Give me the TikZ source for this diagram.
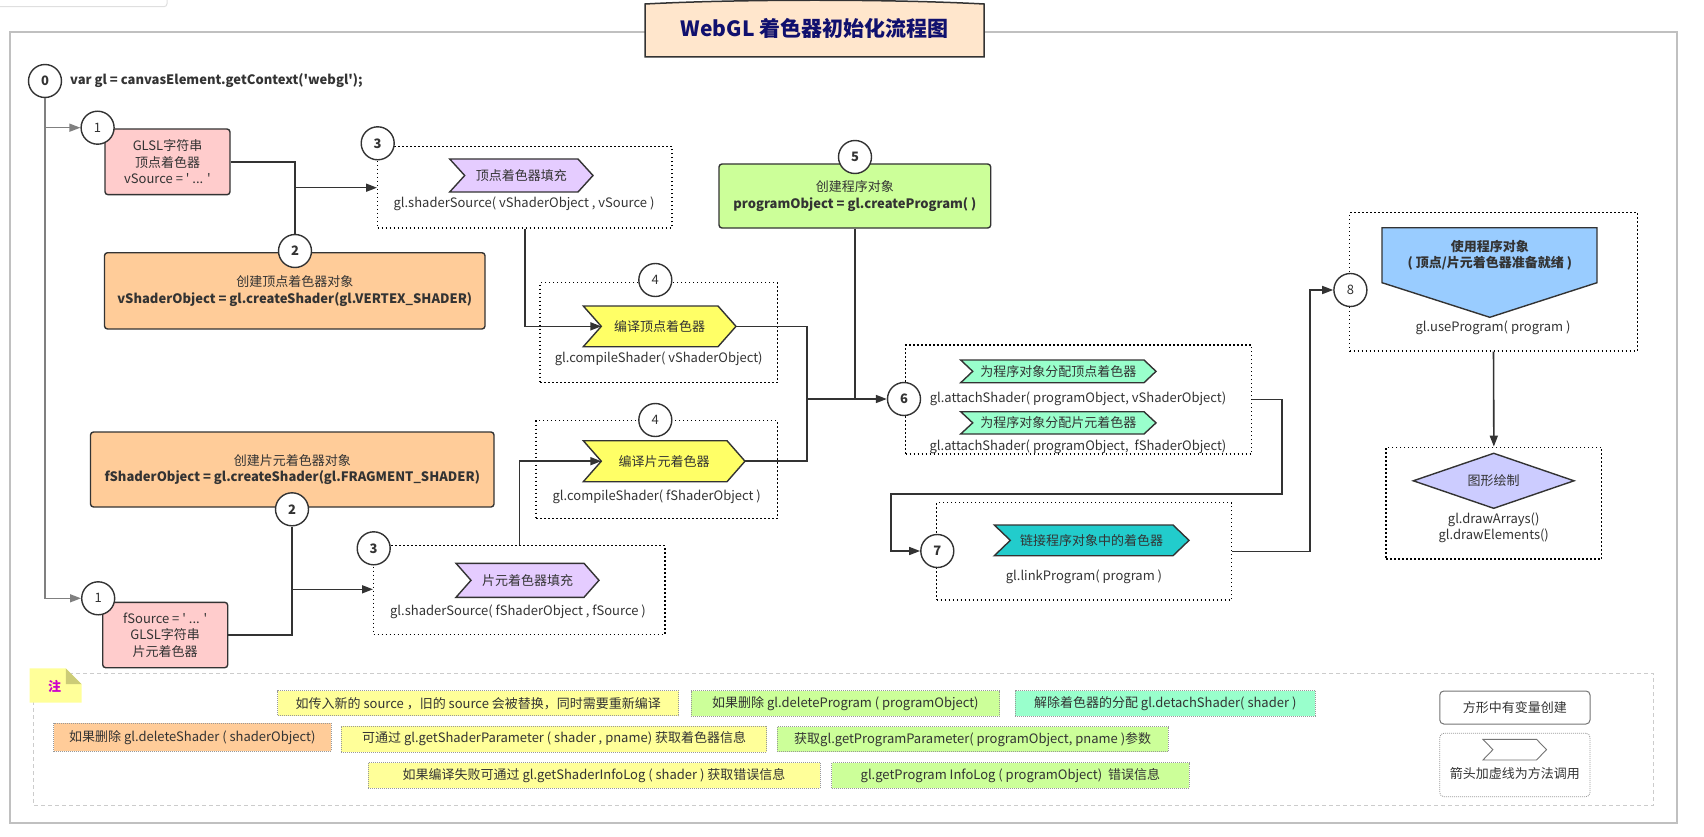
\documentclass[tikz,border=0pt]{standalone}
\usepackage{fontspec}
\setmainfont{Noto Sans CJK SC}
\usetikzlibrary{arrows.meta}
\definecolor{dk}{HTML}{333333}
\definecolor{gyl}{HTML}{808080}
\definecolor{framec}{HTML}{C0C0C0}
\definecolor{titlefill}{HTML}{FFE6CC}
\definecolor{titletext}{HTML}{10106E}
\definecolor{pinkc}{HTML}{FFCCCC}
\definecolor{orangec}{HTML}{FFCC99}
\definecolor{greenc}{HTML}{CCFF99}
\definecolor{bluec}{HTML}{99CCFF}
\definecolor{lavc}{HTML}{E5CCFF}
\definecolor{yelc}{HTML}{FFFF66}
\definecolor{mintc}{HTML}{99FFCC}
\definecolor{tealc}{HTML}{22CCCC}
\definecolor{diac}{HTML}{CCCCFF}
\definecolor{notey}{HTML}{FFFF99}
\definecolor{notefold}{HTML}{CCCC77}
\definecolor{notemag}{HTML}{CC00CC}
\newcommand\mychev[8]{%
  \draw[chevline, fill=#7] (#2,#3) -- ({#4-#6},#3) -- (#4,{(#3+#5)/2}) -- ({#4-#6},#5) -- (#2,#5) -- ({#2+#6},{(#3+#5)/2}) -- cycle;
  \coordinate (#1-in) at ({#2+#6},{(#3+#5)/2});
  \coordinate (#1-out) at (#4,{(#3+#5)/2});
  \node[txt] (#1) at ({(#2+#4)/2},{(#3+#5)/2}) {#8};
}
\begin{document}
\begin{tikzpicture}[x=1pt,y=-1pt,
  conn/.style={draw=dk, line width=1.6pt},
  gconn/.style={draw=gyl, line width=1.4pt},
  arr/.style={-{Triangle[length=11pt,width=8pt]}},
  num/.style={circle, draw=dk, line width=1.4pt, fill=white, minimum size=33pt, inner sep=0pt, text=dk, font=\fontsize{13}{13}\selectfont\bfseries},
  numl/.style={num, font=\fontsize{13}{13}\selectfont},
  dbox/.style={draw=black, line width=1.4pt, dash pattern=on 1.5pt off 2.5pt, inner sep=0pt},
  sbox/.style={draw=dk, line width=1.4pt, rounded corners=3pt, inner sep=0pt, align=center, text=dk, font=\fontsize{13}{16.5}\selectfont},
  txt/.style={inner sep=0pt, align=center, text=dk, font=\fontsize{13}{16.5}\selectfont},
  btxt/.style={txt, font=\fontsize{13}{16.5}\selectfont\bfseries},
  note/.style={draw=gray!80, line width=0.8pt, dash pattern=on 1pt off 1pt, inner sep=0pt, text=dk, font=\fontsize{13}{15}\selectfont},
  chevline/.style={draw=dk, line width=1.4pt},
]
\useasboundingbox (0,0) rectangle (1704,837);
% faint artifact top-left
\draw[gray!25, line width=1pt, rounded corners=3pt] (0,6.7) -- (167,6.7) -- (167,0);
% outer frame
\draw[framec, line width=2pt] (9.6,31.7) rectangle (1677,822.7);
% title
\draw[dk, line width=1.5pt, fill=titlefill] (645,57) -- (645,4) .. controls (740,-1) and (890,-1) .. (984,4) -- (984,57) -- cycle;
\node[inner sep=0pt, text=titletext, font=\fontsize{21}{21}\selectfont\bfseries] (title) at (814.5,28.5) {WebGL 着色器初始化流程图};

% dotted boxes
\node[dbox, minimum width=294.3pt, minimum height=81.3pt] (b3a) at (524.85,187.35) {};
\node[dbox, minimum width=237.3pt, minimum height=99.6pt] (b4a) at (658.65,332.5) {};
\node[dbox, minimum width=241.3pt, minimum height=97.6pt] (b4b) at (656.65,469.5) {};
\node[dbox, minimum width=291.3pt, minimum height=88.6pt] (b3b) at (519.35,590) {};
\node[dbox, minimum width=346pt, minimum height=109pt] (b6) at (1078.7,399.5) {};
\node[dbox, minimum width=295pt, minimum height=97.3pt] (b7) at (1084.2,551.35) {};
\node[dbox, minimum width=287.8pt, minimum height=138.3pt] (b8) at (1493.5,281.85) {};
\node[dbox, minimum width=215.7pt, minimum height=111.7pt] (bd) at (1493.85,503.15) {};

% solid boxes
\node[sbox, fill=pinkc, minimum width=125pt, minimum height=65.7pt] (pa) at (167.5,161.85) {GLSL字符串\\顶点着色器\\vSource = \textquotesingle\ ... \textquotesingle};
\node[sbox, fill=pinkc, minimum width=125pt, minimum height=65.4pt] (pb) at (165.2,635) {fSource = \textquotesingle\ ... \textquotesingle\\GLSL字符串\\片元着色器};
\node[sbox, fill=orangec, minimum width=380.5pt, minimum height=76.3pt] (ob1) at (294.75,290.85) {创建顶点着色器对象\\\textbf{vShaderObject = gl.createShader(gl.VERTEX\_SHADER)}};
\node[sbox, fill=orangec, minimum width=403.5pt, minimum height=75pt] (ob2) at (292.25,469.5) {创建片元着色器对象\\\textbf{fShaderObject = gl.createShader(gl.FRAGMENT\_SHADER)}};
\node[sbox, fill=greenc, minimum width=271.7pt, minimum height=64pt] (gb) at (854.85,196) {创建程序对象\\\textbf{programObject = gl.createProgram( )}};

% chevrons
\mychev{ch3a}{449.7}{159}{593}{192}{15}{lavc}{顶点着色器填充}
\mychev{ch3b}{456}{563.3}{599}{597.3}{15}{lavc}{片元着色器填充}
\mychev{ch4a}{583.3}{306}{736}{346.7}{18}{yelc}{编译顶点着色器}
\mychev{ch4b}{583.3}{440.7}{745}{481.7}{18}{yelc}{编译片元着色器}
\mychev{ch6a}{960.7}{360}{1156}{382.7}{12}{mintc}{为程序对象分配顶点着色器}
\mychev{ch6b}{960.7}{411.7}{1156}{434}{12}{mintc}{为程序对象分配片元着色器}
\mychev{ch7}{994.3}{525}{1189}{555.7}{16}{tealc}{链接程序对象中的着色器}

% pentagon (use program)
\draw[chevline, fill=bluec] (1382,227.7) -- (1597,227.7) -- (1597,282.7) -- (1489.8,317.3) -- (1382,282.7) -- cycle;
\node[btxt] (usep) at (1489.8,255.3) {使用程序对象\\( 顶点/片元着色器准备就绪 )};
% diamond
\draw[chevline, fill=diac] (1413.3,480.8) -- (1493.7,453.3) -- (1574,480.8) -- (1493.7,508.3) -- cycle;
\node[txt] (diat) at (1493.7,480.8) {图形绘制};

% method texts
\node[txt] (t3a) at (524,204) {gl.shaderSource( vShaderObject , vSource )};
\node[txt] (t4a) at (658.7,359.3) {gl.compileShader( vShaderObject)};
\node[txt] (t4b) at (656.7,496.7) {gl.compileShader( fShaderObject )};
\node[txt] (t3b) at (518,611.7) {gl.shaderSource( fShaderObject , fSource )};
\node[txt] (t6a) at (1078,399) {gl.attachShader( programObject, vShaderObject)};
\node[txt] (t6b) at (1078,446.7) {gl.attachShader( programObject,\ \ fShaderObject)};
\node[txt] (t7) at (1084,576.7) {gl.linkProgram( program )};
\node[txt] (t8) at (1493,328.3) {gl.useProgram( program )};
\node[txt, font=\fontsize{13}{16.7}\selectfont] (td) at (1493.7,527.7) {gl.drawArrays()\\gl.drawElements()};
\node[btxt, anchor=west] (vargl) at (70,81) {var gl = canvasElement.getContext(\textquotesingle webgl\textquotesingle);};

% circles
\node[num] (c0) at (45,81) {0};
\node[numl] (c1a) at (97.6,127.7) {1};
\node[numl] (c1b) at (98.2,598.3) {1};
\node[num] (c2a) at (295,251) {2};
\node[num] (c2b) at (292,509.3) {2};
\node[num] (c3a) at (377.7,143.3) {3};
\node[num] (c3b) at (373.7,548.3) {3};
\node[numl] (c4a) at (655.3,280) {4};
\node[numl] (c4b) at (655.3,420) {4};
\node[num] (c5) at (855,157) {5};
\node[num] (c6) at (904,399) {6};
\node[num] (c7) at (937.3,551) {7};
\node[numl] (c8) at (1350.4,290) {8};

% connectors
\draw[gconn, arr] (c0.south) |- (c1b.west);
\draw[gconn, arr] (c0.south |- c1a.west) -- (c1a.west);
\coordinate (ja) at (295,187.7);
\draw[conn] (pa.east) -| (c2a.north);
\draw[conn, arr] (ja) -- (b3a.west |- ja);
\coordinate (jb) at (292,589.3);
\draw[conn] (c2b.south) |- (pb.east);
\draw[conn, arr] (jb) -- (b3b.west |- jb);
\draw[conn, arr] (b3a.south) |- (ch4a-in);
\draw[conn, arr] (b3b.north) |- (ch4b-in);
\coordinate (j2) at (807,399);
\draw[conn] (ch4a-out) -| (j2);
\draw[conn] (ch4b-out) -| (j2);
\draw[conn] (gb.south) -- (gb.south |- j2);
\draw[conn, arr] (j2) -- (c6.west);
\coordinate (k1) at (1281.7,494);
\coordinate (k2) at (891,494);
\draw[conn, arr] (b6.east) -| (k1) -- (k2) |- (c7.west);
\coordinate (k3) at (1310,290);
\draw[conn, arr] (b7.east) -| (k3) -- (c8.west);
\draw[conn, arr] (b8.south) -- (bd.north);

% notes area
\draw[gray!40, line width=1.2pt, dash pattern=on 4pt off 3pt] (33.7,673.3) rectangle (1653.5,805.7);
\fill[notey] (29.5,668.3) -- (65.8,668.3) -- (81.5,684) -- (81.5,702.7) -- (29.5,702.7) -- cycle;
\fill[notefold] (65.8,668.3) -- (81.5,684) -- (65.8,684) -- cycle;
\node[inner sep=0pt, text=notemag, font=\fontsize{13}{13}\selectfont\bfseries] (zhu) at (54.7,686.7) {注};

\node[note, fill=notey, minimum width=400.9pt, minimum height=25pt] (n1) at (478.25,703.2) {如传入新的 source ，旧的 source 会被替换，同时需要重新编译};
\node[note, fill=greenc, minimum width=308.8pt, minimum height=25.3pt] (n2) at (845.4,703.35) {如果删除 gl.deleteProgram ( programObject)};
\node[note, fill=mintc, minimum width=300.4pt, minimum height=25.3pt] (n3) at (1165.2,703.35) {解除着色器的分配 gl.detachShader( shader )};
\node[note, fill=orangec, minimum width=277.4pt, minimum height=27.7pt] (n4) at (192.3,737.15) {如果删除 gl.deleteShader ( shaderObject)};
\node[note, fill=notey, minimum width=425.4pt, minimum height=26pt] (n5) at (554.1,739) {可通过 gl.getShaderParameter ( shader , pname) 获取着色器信息};
\node[note, fill=greenc, minimum width=391.4pt, minimum height=25pt] (n6) at (972.7,739.2) {获取gl.getProgramParameter( programObject, pname )参数};
\node[note, fill=notey, minimum width=452pt, minimum height=25.8pt] (n7) at (594,775.4) {如果编译失败可通过 gl.getShaderInfoLog ( shader ) 获取错误信息};
\node[note, fill=greenc, minimum width=357.1pt, minimum height=25.6pt] (n8) at (1010.35,775.5) {gl.getProgram InfoLog ( programObject)\ \ 错误信息};

% legend
\node[draw=gray!110, line width=1pt, rounded corners=4pt, minimum width=150.2pt, minimum height=33pt, inner sep=0pt, text=dk, font=\fontsize{13}{15}\selectfont] (lg1) at (1514.9,707.5) {方形中有变量创建};
\node[draw=gray!80, line width=0.8pt, dash pattern=on 1pt off 1pt, rounded corners=4pt, minimum width=150.2pt, minimum height=63.4pt, inner sep=0pt] (lg2) at (1514.9,765) {};
\draw[gray!110, line width=0.9pt, fill=white] (1482.9,739.3) -- (1536.5,739.3) -- (1546.5,749.65) -- (1536.5,760) -- (1482.9,760) -- (1492.9,749.65) -- cycle;
\node[txt, font=\fontsize{13}{15}\selectfont] (lg2t) at (1514.9,773.3) {箭头加虚线为方法调用};
\end{tikzpicture}
\end{document}
